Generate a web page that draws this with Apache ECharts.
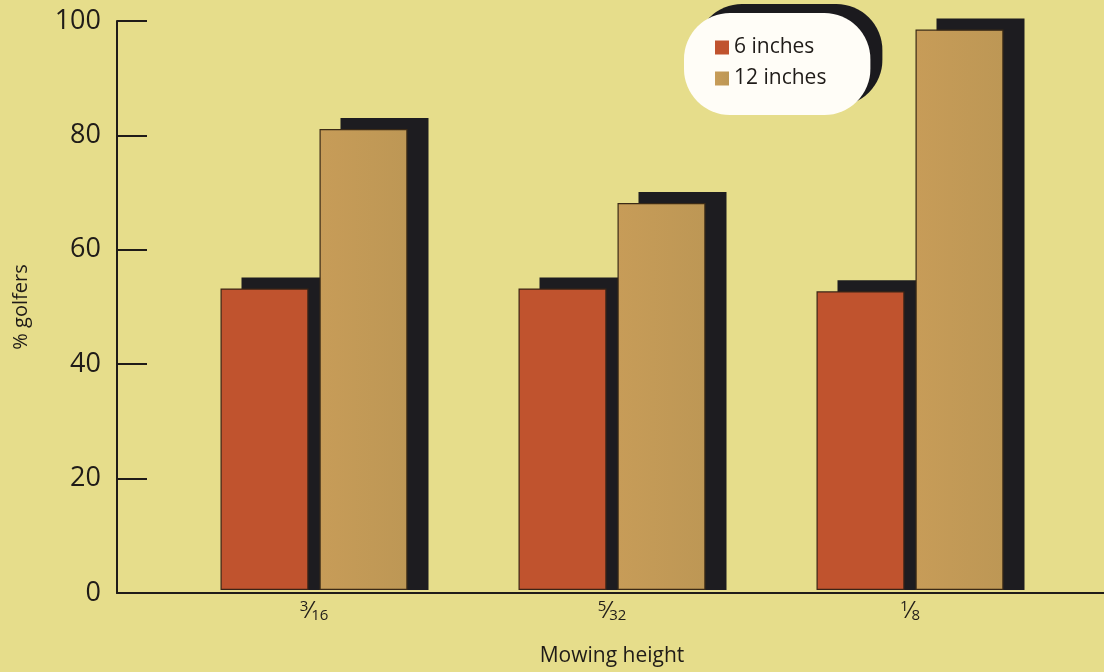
<!DOCTYPE html>
<html>
<head>
<meta charset="utf-8">
<script src="https://cdn.jsdelivr.net/npm/echarts@6/dist/echarts.min.js"></script>
<style>
  html, body { margin: 0; padding: 0; background: #e6dd8b; }
  #chart { width: 1104px; height: 672px; }
</style>
</head>
<body>
<div id="chart"></div>
<script>
// Mowing height categories (fractions of an inch) and % of golfers per ball-roll distance
const categories = ['3/16', '5/32', '1/8'];
const sixInches = [53, 53, 52.5];
const twelveInches = [81, 68, 98.5];
const yTicks = [0, 20, 40, 60, 80, 100];

const BAR_W = 88;
const BAR_GAP = 11;
const SHADOW_DX = 21;
const SHADOW_DY = 11;
const FONT = '"Open Sans", "DejaVu Sans", sans-serif';
const INK = '#1f1b18';

// Black drop shadow behind each bar, drawn from the same values as the bars
function shadowSeries(values, slot) {
  return {
    type: 'custom',
    xAxisIndex: 0,
    yAxisIndex: 0,
    z: 1,
    silent: true,
    data: values.map((v, i) => [i, v]),
    renderItem: function (params, api) {
      const top = api.coord([api.value(0), api.value(1)]);
      const base = api.coord([api.value(0), 0]);
      const left = slot === 0 ? top[0] - BAR_GAP / 2 - BAR_W : top[0] + BAR_GAP / 2;
      return {
        type: 'rect',
        shape: { x: left + SHADOW_DX, y: top[1] - SHADOW_DY, width: BAR_W, height: base[1] - top[1] + SHADOW_DY },
        style: { fill: '#1d1c20' }
      };
    }
  };
}

function fractionLabel(value) {
  const parts = value.split('/');
  return '{n|' + parts[0] + '}{s|⁄}{d|' + parts[1] + '}';
}

const chart = echarts.init(document.getElementById('chart'));
chart.setOption({
  backgroundColor: '#e6dd8b',
  animation: false,
  grid: [
    { left: 165, right: 45, top: 21, bottom: 79 },
    { left: 117, right: 0, top: 21, bottom: 79 }
  ],
  legend: {
    data: ['6 inches', '12 inches'],
    orient: 'vertical',
    left: 684,
    top: 13,
    padding: [24, 44, 26, 31],
    itemWidth: 14,
    itemHeight: 14,
    itemGap: 10,
    icon: 'rect',
    itemStyle: { borderWidth: 0 },
    backgroundColor: '#fffdf7',
    borderRadius: 46,
    shadowColor: '#1b1a1e',
    shadowBlur: 0,
    shadowOffsetX: 12,
    shadowOffsetY: -9,
    textStyle: { fontFamily: FONT, fontSize: 21, color: INK }
  },
  xAxis: [
    {
      type: 'category',
      gridIndex: 0,
      data: categories,
      axisLine: { show: false },
      axisTick: { show: false },
      name: 'Mowing height',
      nameLocation: 'middle',
      nameGap: 56,
      nameTextStyle: { fontFamily: FONT, fontSize: 21, color: INK },
      axisLabel: {
        margin: 9,
        formatter: fractionLabel,
        rich: {
          n: { fontFamily: FONT, fontSize: 15, color: INK, verticalAlign: 'top', padding: [0, 0, 9, 0] },
          s: { fontFamily: FONT, fontSize: 23, color: INK },
          d: { fontFamily: FONT, fontSize: 15, color: INK, verticalAlign: 'bottom', padding: [9, 0, 0, 0] }
        }
      }
    },
    {
      type: 'value',
      gridIndex: 1,
      min: 0,
      max: 1,
      axisLine: { show: true, lineStyle: { color: INK, width: 2 } },
      axisTick: { show: false },
      axisLabel: { show: false },
      splitLine: { show: false }
    }
  ],
  yAxis: [
    {
      type: 'value',
      gridIndex: 0,
      min: 0,
      max: 100,
      interval: 20,
      show: false
    },
    {
      type: 'value',
      gridIndex: 1,
      min: yTicks[0],
      max: yTicks[yTicks.length - 1],
      interval: 20,
      name: '% golfers',
      nameLocation: 'middle',
      nameGap: 86,
      nameRotate: 90,
      nameTextStyle: { fontFamily: FONT, fontSize: 20, color: INK },
      axisLine: { show: true, lineStyle: { color: INK, width: 2 } },
      axisTick: { show: true, inside: true, length: 30, lineStyle: { color: INK, width: 2 } },
      axisLabel: { margin: 16, fontFamily: FONT, fontSize: 27, color: INK },
      splitLine: { show: false }
    }
  ],
  series: [
    shadowSeries(sixInches, 0),
    shadowSeries(twelveInches, 1),
    {
      name: '6 inches',
      type: 'bar',
      xAxisIndex: 0,
      yAxisIndex: 0,
      z: 3,
      data: sixInches,
      barWidth: BAR_W,
      barGap: (BAR_GAP / BAR_W * 100) + '%',
      itemStyle: { color: '#c0532e', borderColor: '#3b2416', borderWidth: 1.2 }
    },
    {
      name: '12 inches',
      type: 'bar',
      xAxisIndex: 0,
      yAxisIndex: 0,
      z: 3,
      data: twelveInches,
      barWidth: BAR_W,
      barGap: (BAR_GAP / BAR_W * 100) + '%',
      itemStyle: {
        color: new echarts.graphic.LinearGradient(0, 0, 1, 0, [
          { offset: 0, color: '#c79c58' },
          { offset: 1, color: '#bd9755' }
        ]),
        borderColor: '#3b2a16',
        borderWidth: 1.2
      }
    }
  ]
});
</script>
</body>
</html>
